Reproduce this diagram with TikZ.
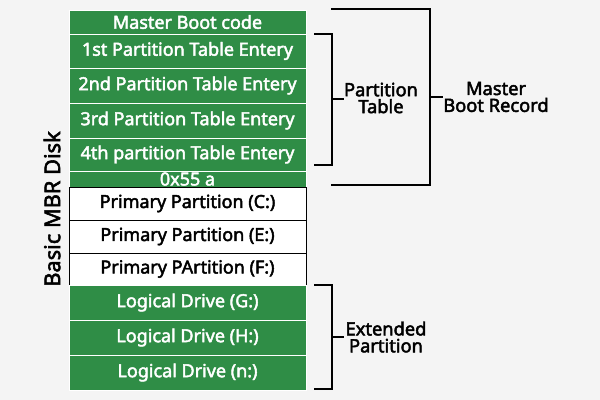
\documentclass[tikz,border=0pt]{standalone}
\usepackage{fontspec}
\setmainfont{Noto Sans}[BoldFont={Noto Sans}, BoldFeatures={FakeBold=2.5}]
\definecolor{gfggreen}{HTML}{2F8D46}
\definecolor{bggray}{HTML}{F4F4F4}
\tikzset{
  cell/.style={draw=white, line width=0.6pt, fill=gfggreen, text=white, font=\bfseries\fontsize{12.8}{14}\selectfont},
  wcell/.style={cell, draw=black, fill=white, text=black},
  brace/.style={line width=1.2pt, black},
  lbl/.style={align=center, font=\bfseries\fontsize{13}{14}\selectfont}
}
\begin{document}
\begin{tikzpicture}[x=0.025cm, y=-0.025cm]
  \fill[bggray] (0, 0) rectangle (600, 400);
  \useasboundingbox (0, 0) rectangle (600, 400);

  % disk column
  \foreach \top/\bot/\txt/\sty/\nm in {
      10/34/Master Boot code/cell/mbc,
      34/68/1st Partition Table Entery/cell/pt1,
      68/103/2nd Partition Table Entery/cell/pt2,
      103/138/3rd Partition Table Entery/cell/pt3,
      138/171/4th partition Table Entery/cell/pt4,
      171/187/0x55 a/cell/sig,
      187/220/Primary Partition (C:)/wcell/pc,
      220/253/Primary Partition (E:)/wcell/pe,
      253/285/Primary PArtition (F:)/wcell/pf,
      285/320/Logical Drive (G:)/cell/lg,
      320/355/Logical Drive (H:)/cell/lh,
      355/390/Logical Drive (n:)/cell/ln}{
    \draw[\sty] (69, \top) rectangle (306, \bot);
    \node[\sty, draw=none, fill=none] (\nm) at (187.5, {(\top+\bot)/2}) {\txt};
  }

  \node[lbl, rotate=90, font=\bfseries\fontsize{15.5}{17}\selectfont] (disk) at (52, 209) {Basic MBR Disk};

  % brackets
  \draw[brace] (314, 34) -- (332, 34) -- (332, 165) -- (314, 165)
               (332, 99) -- (344, 99);
  \node[lbl] (ptab) at (381, 98) {Partition\\[-2pt]Table};

  \draw[brace] (331, 9) -- (430, 9) -- (430, 185) -- (331, 185)
               (430, 97) -- (443, 97);
  \node[lbl] (mbr) at (496, 97) {Master\\[-2pt]Boot Record};

  \draw[brace] (314, 285) -- (332, 285) -- (332, 389) -- (314, 389)
               (332, 337) -- (344, 337);
  \node[lbl] (ext) at (386, 337) {Extended\\[-2pt]Partition};
\end{tikzpicture}
\end{document}
